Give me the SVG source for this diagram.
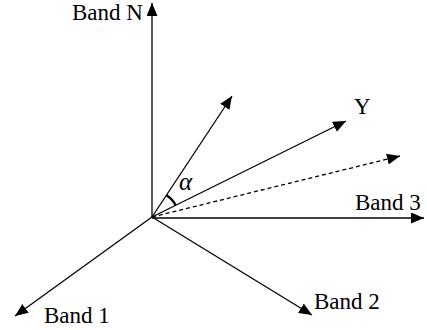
<svg xmlns="http://www.w3.org/2000/svg" width="427" height="330" viewBox="0 0 427 330">
  <style>
    .axis { stroke: #000; stroke-width: 1.3; fill: none; }
    .dash { stroke-dasharray: 4 3; }
    .lbl { font-family: "Liberation Serif", "Times New Roman", serif; font-size: 23px; fill: #000; }
    .greek { font-family: "Liberation Serif", "DejaVu Serif", serif; font-style: italic; font-size: 25px; fill: #000; }
  </style>
  <defs>
    <marker id="head" markerUnits="userSpaceOnUse" markerWidth="14" markerHeight="12" refX="13" refY="5.5" orient="auto">
      <path d="M0,0 L13,5.5 L0,11 Z" fill="#000"/>
    </marker>
  </defs>
  <rect width="427" height="330" fill="#fff"/>

  <g id="connectors">
    <line id="axis-n" class="axis" x1="152" y1="217" x2="152" y2="3" marker-end="url(#head)"/>
    <line id="axis-3" class="axis" x1="152" y1="218" x2="424" y2="218" marker-end="url(#head)"/>
    <line id="axis-1" class="axis" x1="152" y1="217" x2="15" y2="316" marker-end="url(#head)"/>
    <line id="axis-2" class="axis" x1="152" y1="217" x2="312" y2="315" marker-end="url(#head)"/>
    <line id="vec-upper" class="axis" x1="152" y1="217" x2="232" y2="96" marker-end="url(#head)"/>
    <line id="vec-y" class="axis" x1="152" y1="217" x2="346" y2="121" marker-end="url(#head)"/>
    <line id="vec-proj" class="axis dash" x1="152" y1="217" x2="400" y2="156" marker-end="url(#head)"/>
    <!-- angle mark between the two vectors -->
    <path id="angle" d="M166.5,195.3 A26,26 0 0 1 175.7,205.3" stroke="#000" stroke-width="2.2" fill="none"/>
  </g>

  <g id="band-n"><text class="lbl" x="72" y="20">Band N</text></g>
  <g id="label-y"><text class="lbl" x="354" y="114">Y</text></g>
  <g id="band-3"><text class="lbl" x="355" y="210">Band 3</text></g>
  <g id="band-1"><text class="lbl" x="44" y="323">Band 1</text></g>
  <g id="band-2"><text class="lbl" x="314" y="309">Band 2</text></g>
  <g id="alpha"><text class="greek" x="179" y="190">α</text></g>
</svg>
